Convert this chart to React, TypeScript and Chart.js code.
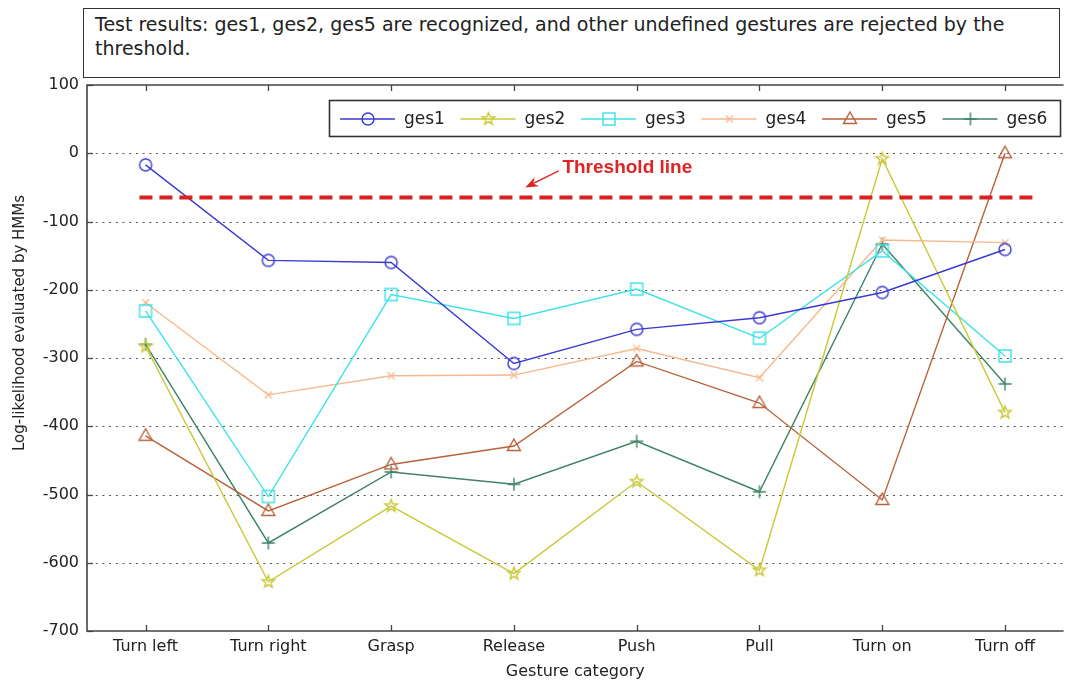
import React, { useEffect, useRef } from 'react';
import { Chart, registerables } from 'chart.js';

Chart.register(...registerables);

const categories = ['Turn left', 'Turn right', 'Grasp', 'Release', 'Push', 'Pull', 'Turn on', 'Turn off'];
const seriesNames = ['ges1', 'ges2', 'ges3', 'ges4', 'ges5', 'ges6'];
const ges1 = [-17, -157, -160, -308, -258, -241, -204, -141];
const ges2 = [-283, -628, -517, -616, -481, -611, -8, -380];
const ges3 = [-231, -503, -207, -242, -199, -271, -143, -297];
const ges4 = [-219, -354, -326, -325, -286, -329, -127, -131];
const ges5 = [-414, -524, -456, -429, -305, -366, -508, 0];
const ges6 = [-280, -571, -467, -485, -422, -496, -133, -338];
const thresholdValue = -65;
const thresholdSpan = [-0.05, 7.24];
const yTicks = [100, 0, -100, -200, -300, -400, -500, -600, -700];
const titleLines = [
  'Test results: ges1, ges2, ges5 are recognized, and other undefined gestures are rejected by the',
  'threshold.',
];

const seriesValues = [ges1, ges2, ges3, ges4, ges5, ges6];
const seriesColors = ['#3a3ad2', '#c9c93a', '#3fe2e6', '#f5b990', '#b8623c', '#3f8266'];
const seriesMarkers = ['circle', 'star', 'square', 'x', 'triangle', 'plus'];

const FONT = "'DejaVu Sans', sans-serif";

function makeMarker(kind: string, color: string): HTMLCanvasElement {
  const c = document.createElement('canvas');
  c.width = 20;
  c.height = 20;
  const g = c.getContext('2d')!;
  g.strokeStyle = color;
  g.lineWidth = 1.4;
  g.beginPath();
  if (kind === 'circle') {
    g.arc(10, 10, 6, 0, Math.PI * 2);
  } else if (kind === 'star') {
    for (let i = 0; i < 10; i++) {
      const r = i % 2 === 0 ? 6.5 : 2.7;
      const a = -Math.PI / 2 + (i * Math.PI) / 5;
      const px = 10 + r * Math.cos(a);
      const py = 10 + r * Math.sin(a);
      if (i === 0) g.moveTo(px, py);
      else g.lineTo(px, py);
    }
    g.closePath();
  } else if (kind === 'square') {
    g.rect(4, 4, 12, 12);
  } else if (kind === 'x') {
    g.moveTo(6.5, 6.5);
    g.lineTo(13.5, 13.5);
    g.moveTo(13.5, 6.5);
    g.lineTo(6.5, 13.5);
  } else if (kind === 'triangle') {
    g.moveTo(10, 3);
    g.lineTo(16.5, 14.5);
    g.lineTo(3.5, 14.5);
    g.closePath();
  } else if (kind === 'plus') {
    g.moveTo(10, 3.5);
    g.lineTo(10, 16.5);
    g.moveTo(3.5, 10);
    g.lineTo(16.5, 10);
  }
  g.stroke();
  return c;
}

export default function App() {
  const ref = useRef<HTMLCanvasElement | null>(null);

  useEffect(() => {
    if (!ref.current) return;
    const markers = seriesMarkers.map((m, i) => makeMarker(m, seriesColors[i]));

    const framePlugin = {
      id: 'frame',
      beforeDatasetsDraw(chart: any) {
        const { ctx, chartArea } = chart;
        const ys = chart.scales.y;
        const { left, right } = chartArea;
        ctx.save();
        ctx.strokeStyle = '#555';
        ctx.lineWidth = 1.2;
        ctx.setLineDash([2, 4.7]);
        yTicks.forEach((v) => {
          if (v === 100 || v === -700) return;
          const y = Math.round(ys.getPixelForValue(v)) + 0.5;
          ctx.beginPath();
          ctx.moveTo(left + 2, y);
          ctx.lineTo(right, y);
          ctx.stroke();
        });
        ctx.setLineDash([]);
        ctx.restore();
      },
      afterDatasetsDraw(chart: any) {
        const { ctx, chartArea } = chart;
        const xs = chart.scales.x;
        const ys = chart.scales.y;
        const { left, right, top, bottom } = chartArea;
        ctx.save();
        ctx.strokeStyle = '#444';
        ctx.lineWidth = 1.6;
        ctx.beginPath();
        ctx.moveTo(right, top);
        ctx.lineTo(left, top);
        ctx.lineTo(left, bottom);
        ctx.lineTo(right, bottom);
        ctx.stroke();
        ctx.lineWidth = 1.3;
        yTicks.forEach((v) => {
          const y = Math.round(ys.getPixelForValue(v)) + 0.5;
          ctx.beginPath();
          ctx.moveTo(left, y);
          ctx.lineTo(left + 6, y);
          ctx.stroke();
        });
        categories.forEach((_, i) => {
          const x = Math.round(xs.getPixelForValue(i)) + 0.5;
          ctx.beginPath();
          ctx.moveTo(x, bottom);
          ctx.lineTo(x, bottom - 6);
          ctx.moveTo(x, top);
          ctx.lineTo(x, top + 6);
          ctx.stroke();
        });

        // threshold annotation
        const red = '#e02424';
        const tx = xs.getPixelForValue(3.395);
        const ty = ys.getPixelForValue(-21);
        ctx.fillStyle = red;
        ctx.font = "bold 19px 'Liberation Sans', Arial, sans-serif";
        ctx.textAlign = 'left';
        ctx.textBaseline = 'middle';
        ctx.fillText('Threshold line', tx, ty);
        const tailX = xs.getPixelForValue(3.365);
        const tailY = ys.getPixelForValue(-26);
        const tipX = xs.getPixelForValue(3.092);
        const tipY = ys.getPixelForValue(-50);
        const ang = Math.atan2(tipY - tailY, tipX - tailX);
        ctx.strokeStyle = red;
        ctx.lineWidth = 1.4;
        ctx.beginPath();
        ctx.moveTo(tailX, tailY);
        ctx.lineTo(tipX - 8 * Math.cos(ang), tipY - 8 * Math.sin(ang));
        ctx.stroke();
        ctx.beginPath();
        ctx.moveTo(tipX, tipY);
        ctx.lineTo(tipX - 13 * Math.cos(ang) + 5 * Math.sin(ang), tipY - 13 * Math.sin(ang) - 5 * Math.cos(ang));
        ctx.lineTo(tipX - 9 * Math.cos(ang), tipY - 9 * Math.sin(ang));
        ctx.lineTo(tipX - 13 * Math.cos(ang) - 5 * Math.sin(ang), tipY - 13 * Math.sin(ang) + 5 * Math.cos(ang));
        ctx.closePath();
        ctx.fill();

        // legend
        const lx = 329.5;
        const ly = 100.5;
        ctx.fillStyle = '#fff';
        ctx.fillRect(lx, ly, 731, 36);
        ctx.strokeStyle = '#333';
        ctx.lineWidth = 1.6;
        ctx.strokeRect(lx, ly, 731, 36);
        ctx.font = `17px ${FONT}`;
        ctx.textBaseline = 'middle';
        seriesNames.forEach((name, i) => {
          const cx = 368 + 120.5 * i;
          const cy = 119;
          ctx.strokeStyle = seriesColors[i];
          ctx.lineWidth = 1.4;
          ctx.beginPath();
          ctx.moveTo(cx - 28, cy);
          ctx.lineTo(cx + 27, cy);
          ctx.stroke();
          ctx.drawImage(markers[i], cx - 10, cy - 10);
          ctx.fillStyle = '#222';
          ctx.fillText(name, cx + 36, cy + 1);
        });

        // y axis title
        ctx.save();
        ctx.translate(20, 323);
        ctx.rotate(-Math.PI / 2);
        ctx.font = `15px ${FONT}`;
        ctx.fillStyle = '#222';
        ctx.textAlign = 'center';
        ctx.textBaseline = 'middle';
        ctx.fillText('Log-likelihood evaluated by HMMs', 0, 0);
        ctx.restore();
        ctx.restore();
      },
    };

    const datasets: any[] = seriesValues.map((vals, i) => ({
      label: seriesNames[i],
      data: vals.map((v, k) => ({ x: k, y: v })),
      borderColor: seriesColors[i],
      backgroundColor: seriesColors[i],
      borderWidth: 1.4,
      pointStyle: markers[i],
      pointRadius: 6,
      pointHoverRadius: 6,
      tension: 0,
      fill: false,
    }));
    datasets.push({
      label: 'threshold',
      data: thresholdSpan.map((x) => ({ x, y: thresholdValue })),
      borderColor: '#d82222',
      borderWidth: 4,
      borderDash: [13, 7],
      pointRadius: 0,
      fill: false,
      order: -1,
    });

    const chart = new Chart(ref.current, {
      type: 'line',
      data: { datasets },
      plugins: [framePlugin],
      options: {
        animation: false,
        responsive: false,
        devicePixelRatio: 1,
        events: [],
        layout: { padding: { left: 0, top: 85, right: 0, bottom: 0 } },
        plugins: { legend: { display: false }, tooltip: { enabled: false }, title: { display: false } },
        scales: {
          x: {
            type: 'linear',
            min: -0.477,
            max: 7.477,
            bounds: 'data',
            afterBuildTicks: (s: any) => {
              s.ticks = categories.map((_, i) => ({ value: i }));
            },
            afterFit: (s: any) => {
              s.height = 57;
            },
            grid: { display: false, drawTicks: false },
            border: { display: false },
            ticks: {
              autoSkip: false,
              maxRotation: 0,
              padding: 6,
              color: '#222',
              font: { family: FONT, size: 16 },
              callback: (v: any) => categories[Math.round(Number(v))],
            },
            title: {
              display: true,
              text: 'Gesture category',
              color: '#222',
              font: { family: FONT, size: 16 },
              padding: { top: 0, bottom: 7 },
            },
          },
          y: {
            type: 'linear',
            min: -700,
            max: 100,
            bounds: 'data',
            afterBuildTicks: (s: any) => {
              s.ticks = yTicks.map((v) => ({ value: v }));
            },
            afterFit: (s: any) => {
              s.width = 87;
            },
            grid: { display: false, drawTicks: false },
            border: { display: false },
            ticks: {
              padding: 8,
              color: '#222',
              font: { family: FONT, size: 16 },
              callback: (v: any) => String(v),
            },
          },
        },
      } as any,
    });
    return () => chart.destroy();
  }, []);

  return (
    <div style={{ position: 'absolute', left: 0, top: 0, width: 1066, height: 688, overflow: 'hidden', background: '#fff' }}>
      <canvas ref={ref} width={1071} height={688} style={{ position: 'absolute', left: 0, top: 0, width: 1071, height: 688 }} />
      <div
        style={{
          position: 'absolute',
          left: 83,
          top: 8,
          width: 977,
          height: 70,
          boxSizing: 'border-box',
          border: '1.5px solid #333',
          background: '#fff',
          padding: '3px 0 0 11px',
          fontFamily: FONT,
          fontSize: 19,
          lineHeight: '24px',
          color: '#222',
          whiteSpace: 'nowrap',
        }}
      >
        {titleLines.map((t, i) => (
          <div key={i}>{t}</div>
        ))}
      </div>
    </div>
  );
}
